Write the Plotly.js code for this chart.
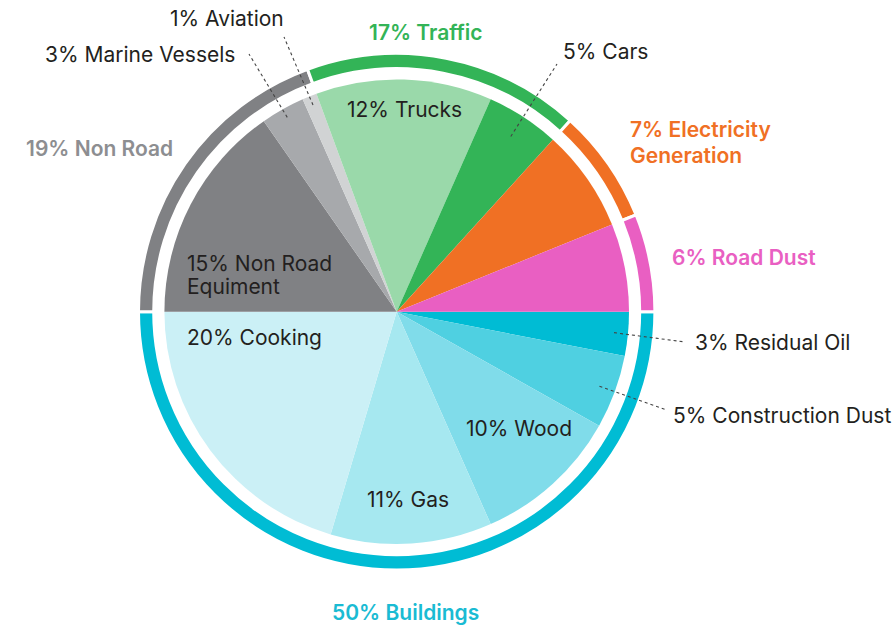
<!DOCTYPE html>
<html><head><meta charset="utf-8">
<script src="https://cdn.plot.ly/plotly-3.0.1.min.js"></script>
<style>html,body{margin:0;padding:0;background:#fff;}#chart{width:895px;height:625px;}</style>
</head><body><div id="chart"></div>
<script>
// ---- Data ----
// Inner pie slices, listed clockwise starting at 3 o'clock
const innerLabels = ['Residual Oil','Construction Dust','Wood','Gas','Cooking','Non Road Equiment','Marine Vessels','Aviation','Trucks','Cars','Electricity Generation','Road Dust'];
const innerValues = [3,5,10,11,20,15,3,1,12,5,7,6];
const innerColors = ['#00BCD4','#4FD0E1','#80DCEA','#A6E8F0','#CBF0F6','#808184','#A7A9AC','#D1D3D4','#9AD9AA','#33B457','#F07024','#E95FC2'];
// Outer ring groups, clockwise from 3 o'clock
const outerLabels = ['Buildings','Non Road','Traffic','Electricity','Road Dust'];
const outerValues = [49,19,17,7,6];
const outerPercent = ['50%','19%','17%','7%','6%'];
const outerColors = ['#00BCD4','#808184','#33B457','#F07024','#E95FC2'];
const outerTextColors = ['#1ABBD3','#8D8E91','#33B457','#F07024','#E95FC2'];

// ---- Geometry (pixels) ----
const W = 895, H = 625;
const cx = 396.7, cy = 311.7;
const rPie = 232.3, rRingOut = 258.2, rRingIn = 243.0;
const FONT = 'Inter, "Liberation Sans", Arial, sans-serif';
const DARK = '#231F20';
const FS = 21;

function dom(r){
  return {x:[(cx-r)/W,(cx+r)/W], y:[(H-cy-r)/H,(H-cy+r)/H]};
}
const px = x => x/W, py = y => 1 - y/H;

const traces = [
  {type:'pie', values:innerValues, labels:innerLabels, sort:false, direction:'clockwise', rotation:90,
   marker:{colors:innerColors, line:{width:0}}, textinfo:'none', hoverinfo:'skip', domain:dom(rPie), showlegend:false},
  {type:'pie', values:outerValues, labels:outerLabels, sort:false, direction:'clockwise', rotation:90,
   hole:rRingIn/rRingOut, marker:{colors:outerColors, line:{width:3, color:'#ffffff'}}, textinfo:'none', hoverinfo:'skip', domain:dom(rRingOut), showlegend:false}
];

// ---- Label placement (layout only) ----
const innerLabelPos = {
  0:{x:693, y:342, anchor:'left'},
  1:{x:671, y:415, anchor:'left'},
  2:{x:519, y:428, anchor:'center'},
  3:{x:408, y:499, anchor:'center'},
  4:{x:185, y:337, anchor:'left'},
  5:{x:185, y:263, anchor:'left', lines:['Non Road','Equiment'], dy:23},
  6:{x:140, y:54, anchor:'center'},
  7:{x:227, y:18, anchor:'center'},
  8:{x:404, y:109, anchor:'center'},
  9:{x:605, y:52, anchor:'center'}
};
const outerLabelPos = {
  0:{x:405, y:612, anchor:'center'},
  1:{x:99, y:148, anchor:'center'},
  2:{x:426, y:33, anchor:'center'},
  3:{x:628, y:130, anchor:'left', lines:['Electricity','Generation'], dy:25},
  4:{x:670, y:257, anchor:'left'}
};
// leader lines: slice index -> radius fraction of start, end point (px)
const leaders = {
  0:{f:0.94, x:685, y:342},
  1:{f:0.93, x:667, y:410},
  6:{f:0.96, x:249, y:54},
  7:{f:0.96, x:284, y:37},
  9:{f:0.90, x:557, y:64}
};

const annotations = [];
function addText(text, x, y, anchor, color, size, weight){
  annotations.push({xref:'paper', yref:'paper', x:px(x), y:py(y), text:text, showarrow:false,
    xanchor:anchor, yanchor:'middle', align:anchor==='left'?'left':'center',
    font:{family:FONT, size:size, color:color, weight:weight}});
}
Object.keys(innerLabelPos).forEach(k => {
  const i = +k, p = innerLabelPos[k];
  const pct = innerValues[i] + '%';
  if (p.lines) {
    addText(pct + ' ' + p.lines[0], p.x, p.y, p.anchor, DARK, FS, 400);
    addText(p.lines[1], p.x, p.y + p.dy, p.anchor, DARK, FS, 400);
  } else {
    addText(pct + ' ' + innerLabels[i], p.x, p.y, p.anchor, DARK, FS, 400);
  }
});
Object.keys(outerLabelPos).forEach(k => {
  const i = +k, p = outerLabelPos[k];
  if (p.lines) {
    addText(outerPercent[i] + ' ' + p.lines[0], p.x, p.y, p.anchor, outerTextColors[i], FS, 600);
    addText(p.lines[1], p.x, p.y + p.dy, p.anchor, outerTextColors[i], FS, 600);
  } else {
    addText(outerPercent[i] + ' ' + outerLabels[i], p.x, p.y, p.anchor, outerTextColors[i], FS, 600);
  }
});

// leader line starts computed from slice mid-angles
const total = innerValues.reduce((a,b)=>a+b,0);
const cum = []; innerValues.reduce((a,v,i)=>{cum[i]=a; return a+v;},0);
const shapes = Object.keys(leaders).map(k => {
  const i = +k, L = leaders[k];
  const th = (cum[i] + innerValues[i]/2)/total * 2*Math.PI;
  const sx = cx + L.f*rPie*Math.cos(th), sy = cy + L.f*rPie*Math.sin(th);
  return {type:'line', xref:'paper', yref:'paper', x0:px(sx), y0:py(sy), x1:px(L.x), y1:py(L.y),
    line:{color:'#444444', width:1.1, dash:'dot'}};
});

Plotly.newPlot('chart', traces, {
  width:W, height:H, margin:{l:0,r:0,t:0,b:0}, paper_bgcolor:'#fff', plot_bgcolor:'#fff',
  showlegend:false, annotations:annotations, shapes:shapes
}, {staticPlot:true, displayModeBar:false});
</script></body></html>
